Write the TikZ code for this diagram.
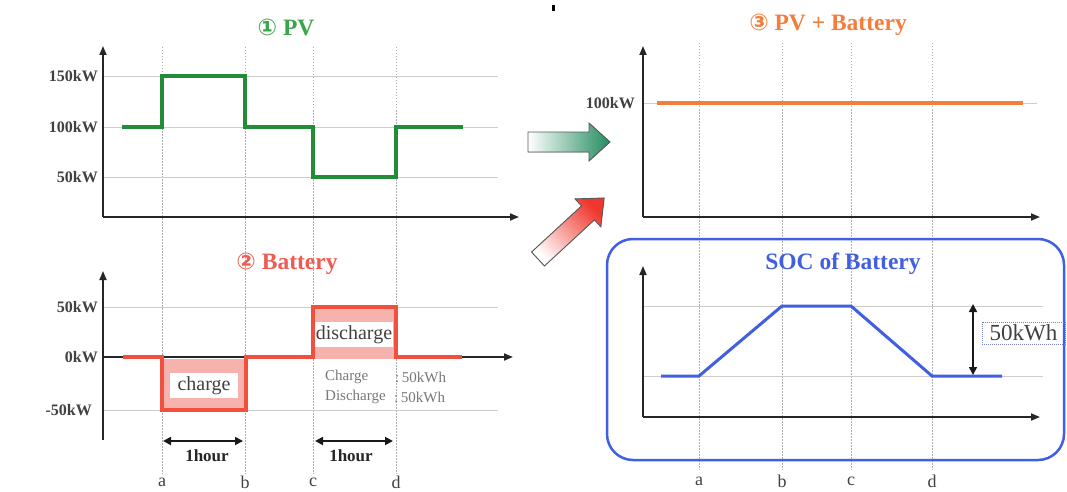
\documentclass[tikz,border=0pt]{standalone}
\usepackage{fontspec}
\setmainfont{Liberation Serif}
\newfontfamily\circfont{DejaVu Sans}
\usetikzlibrary{arrows.meta}
\definecolor{pvgreen}{RGB}{35,140,55}
\definecolor{pvtitle}{RGB}{60,165,75}
\definecolor{batred}{RGB}{240,80,60}
\definecolor{battitle}{RGB}{240,90,80}
\definecolor{batpink}{RGB}{246,178,172}
\definecolor{orng}{RGB}{245,125,60}
\definecolor{socblue}{RGB}{65,95,225}
\definecolor{gridgray}{RGB}{205,205,205}
\definecolor{dotgray}{RGB}{175,175,175}
\definecolor{labgray}{RGB}{65,65,65}
\definecolor{notegray}{RGB}{120,120,120}
\definecolor{arrgreen}{RGB}{35,140,95}
\definecolor{arrred}{RGB}{240,55,45}
\definecolor{boxdot}{RGB}{120,130,200}
\begin{document}
\begin{tikzpicture}[x=1pt,y=-1pt,
  axis/.style={line width=1.8pt, draw=black!85, -{Triangle[length=9pt,width=7pt]}},
  gridln/.style={line width=0.9pt, draw=gridgray},
  vdot/.style={line width=1pt, draw=dotgray, dash pattern=on 1.5pt off 1.5pt},
  ylab/.style={anchor=east, inner sep=0pt, font=\fontsize{16}{16}\selectfont\bfseries, text=labgray},
  ttl/.style={inner sep=0pt, font=\fontsize{23.5}{24}\selectfont\bfseries},
  tlab/.style={inner sep=0pt, font=\fontsize{18}{18}\selectfont, text=labgray},
  note/.style={anchor=west, inner sep=0pt, font=\fontsize{15}{15}\selectfont, text=notegray},
  hourlab/.style={inner sep=0pt, font=\fontsize{17}{17}\selectfont\bfseries, text=black!85},
  dblarrow/.style={line width=1.8pt, draw=black!90, {Triangle[length=8pt,width=8pt]}-{Triangle[length=8pt,width=8pt]}},
  boxlab/.style={inner sep=0pt, font=\fontsize{20}{20}\selectfont, text=labgray}
]
\useasboundingbox (0,0) rectangle (1067,492);
\fill[white] (0,0) rectangle (1067,492);

% small mark at top
\fill[black] (552,5) rectangle (555,11);

% ---------- vertical dotted guides ----------
\foreach \x/\n in {162/a,245/b,313/c,396/d}{
  \coordinate (Lt\n) at (\x,47);
  \coordinate (Lb\n) at (\x,474);
  \draw[vdot] (Lt\n) -- (Lb\n);
}
\foreach \x/\n in {699/a,782/b,851/c,932/d}{
  \coordinate (Rt\n) at (\x,43);
  \coordinate (Rb\n) at (\x,470);
  \draw[vdot] (Rt\n) -- (Rb\n);
}

% ================= 1: PV =================
\node[ttl, text=pvtitle] (pvtitle) at (286,27) {{\circfont\fontsize{23}{23}\selectfont ①} PV};
\foreach \y/\n in {76/a,127/b,177/c}{
  \coordinate (pvg1\n) at (103,\y);
  \coordinate (pvg2\n) at (498,\y);
  \draw[gridln] (pvg1\n) -- (pvg2\n);
}
\node[ylab] (pv150) at (98,76) {150kW};
\node[ylab] (pv100) at (98,127) {100kW};
\node[ylab] (pv50) at (98,177) {50kW};
\draw[line width=3.5pt, draw=pvgreen, line join=miter]
  (122,127) -- (162,127) -- (162,76) -- (245,76) -- (245,127) -- (313,127)
  -- (313,177) -- (396,177) -- (396,127) -- (463,127);
\coordinate (pvO) at (103,217);
\coordinate (pvY) at (103,46);
\coordinate (pvX) at (519,217);
\draw[axis] (pvO) -- (pvY);
\draw[axis] (pvO) -- (pvX);

% ================= 2: Battery =================
\node[ttl, text=battitle] (battitle) at (287,264) {{\circfont\fontsize{23}{23}\selectfont ②} Battery};
\foreach \y/\n in {307/a,410/c}{
  \coordinate (bg1\n) at (103,\y);
  \coordinate (bg2\n) at (498,\y);
  \draw[gridln] (bg1\n) -- (bg2\n);
}
\node[ylab] (b50) at (98,307) {50kW};
\node[ylab] (b0) at (98,357) {0kW};
\node[ylab] (bm50) at (92,410) {-50kW};
\coordinate (bO) at (103,440);
\coordinate (bY) at (103,271);
\coordinate (bX0) at (103,357);
\coordinate (bX) at (513,357);
\draw[axis] (bO) -- (bY);
\draw[axis] (bX0) -- (bX);
% charge / discharge boxes
\fill[batpink] (162,358.5) rectangle (246,410);
\fill[batpink] (313,307) rectangle (396,358.5);
\fill[white] (170,373) rectangle (238,398);
\fill[white] (315,322) rectangle (393,347);
\node[boxlab] (chg) at (204,386) {charge};
\node[boxlab] (dchg) at (354,335) {discharge};
\draw[line width=4pt, draw=batred, line join=miter]
  (123,357) -- (162,357) -- (162,410) -- (246,410) -- (246,357) -- (313,357)
  -- (313,307) -- (396,307) -- (396,357) -- (462,357);
% notes
\node[note] (n1a) at (325,377) {Charge};
\node[note] (n1b) at (395,377) {:\,50kWh};
\node[note] (n2a) at (325,397) {Discharge};
\node[note] (n2b) at (394,397) {:\,50kWh};
% 1hour arrows
\coordinate (h1a) at (163,441);
\coordinate (h1b) at (243,441);
\coordinate (h2a) at (315,441);
\coordinate (h2b) at (393,441);
\draw[dblarrow] (h1a) -- (h1b);
\draw[dblarrow] (h2a) -- (h2b);
\node[hourlab] (hr1) at (207,456) {1hour};
\node[hourlab] (hr2) at (351,456) {1hour};
% a b c d
\node[tlab] (la) at (162,482) {a};
\node[tlab] (lb) at (245,482) {b};
\node[tlab] (lc) at (313,482) {c};
\node[tlab] (ld) at (396,482) {d};

% ================= arrows between =================
\coordinate (gT) at (528,142);
\coordinate (gH) at (610,142);
\filldraw[draw=black!65, line width=0.9pt, left color=white, right color=arrgreen]
  (528,132) -- (589,132) -- (589,123) -- (gH) -- (589,161) -- (589,152) -- (528,152) -- cycle;
\begin{scope}[shift={(538,259)}, rotate=42.7]
  \filldraw[draw=black!65, line width=0.9pt, left color=white, right color=arrred, shading angle=135]
    (0,9.5) -- (68,9.5) -- (68,19) -- (90,0) -- (68,-19) -- (68,-9.5) -- (0,-9.5) -- cycle;
\end{scope}

% ================= 3: PV + Battery =================
\node[ttl, text=orng] (pvbtitle) at (828,25) {{\circfont\fontsize{23}{23}\selectfont ③} PV + Battery};
\coordinate (rg1) at (643,103);
\coordinate (rg2) at (1037,103);
\draw[gridln] (rg1) -- (rg2);
\node[ylab] (r100) at (635,103) {100kW};
\draw[line width=4pt, draw=orng] (657,103) -- (1023,103);
\coordinate (rO) at (643,217);
\coordinate (rY) at (643,46);
\coordinate (rX) at (1040,217);
\draw[axis] (rO) -- (rY);
\draw[axis] (rO) -- (rX);

% ================= SOC of Battery =================
\draw[line width=2.5pt, draw=socblue, rounded corners=26pt] (607,239) rectangle (1064,460);
\node[ttl, text=socblue] (soctitle) at (843,264) {SOC of Battery};
\foreach \y/\n in {306/a,376/b}{
  \coordinate (sg1\n) at (643,\y);
  \coordinate (sg2\n) at (1043,\y);
  \draw[gridln] (sg1\n) -- (sg2\n);
}
\draw[line width=3pt, draw=socblue, line join=miter]
  (661,376) -- (699,376) -- (782,306) -- (851,306) -- (932,376) -- (1002,376);
\coordinate (sO) at (643,417);
\coordinate (sY) at (643,266);
\coordinate (sX) at (1040,417);
\draw[axis] (sO) -- (sY);
\draw[axis] (sO) -- (sX);
\coordinate (dA) at (973,304);
\coordinate (dB) at (973,375);
\draw[dblarrow, line width=1.5pt] (dA) -- (dB);
\node[draw=boxdot, line width=0.8pt, dash pattern=on 1pt off 1pt, inner sep=0pt,
      minimum width=83pt, minimum height=22pt,
      font=\fontsize{23}{23}\selectfont, text=labgray] (kwh) at (1023.5,333) {50kWh};
\node[tlab] (ra) at (699,481) {a};
\node[tlab] (rb) at (782,481) {b};
\node[tlab] (rc) at (851,481) {c};
\node[tlab] (rd) at (932,481) {d};
\end{tikzpicture}
\end{document}
